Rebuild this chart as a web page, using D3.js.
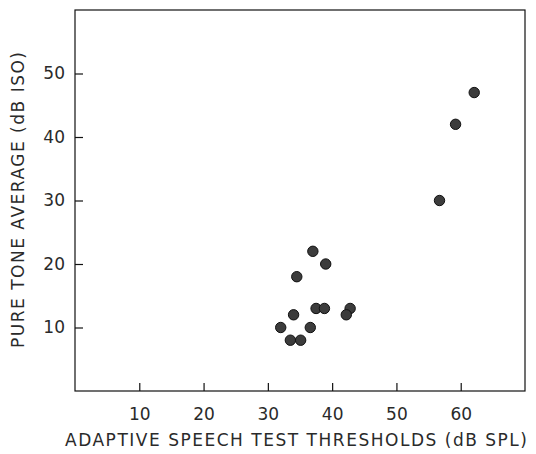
<!DOCTYPE html>
<html>
<head>
<meta charset="utf-8">
<script src="https://cdn.jsdelivr.net/npm/d3@7"></script>
<style>
  body { margin: 0; background: #fff; }
  text { font-family: "DejaVu Sans", sans-serif; fill: #2a2a2a; }
</style>
</head>
<body>
<div id="chart"></div>
<script>
// DATA
var speechThresholds = [37, 39, 34.5, 37.5, 38.8, 42.8, 42.2, 34, 32, 36.6, 33.5, 35.1, 56.7, 59.2, 62.1];
var pureToneAverages = [22, 20, 18, 13, 13, 13, 12, 12, 10, 10, 8, 8, 30, 42, 47];
var xTicks = [10, 20, 30, 40, 50, 60];
var yTicks = [10, 20, 30, 40, 50];

var width = 536;
var height = 454;
var margin = { top: 10, right: 11, bottom: 63, left: 75 };

var svg = d3
  .select("#chart")
  .append("svg")
  .attr("width", width)
  .attr("height", height);

var x = d3.scaleLinear().domain([0, 70]).range([margin.left, width - margin.right]);
var y = d3.scaleLinear().domain([0, 60]).range([height - margin.bottom, margin.top]);

// frame
svg
  .append("rect")
  .attr("x", x(0))
  .attr("y", y(60))
  .attr("width", x(70) - x(0))
  .attr("height", y(0) - y(60))
  .attr("fill", "none")
  .attr("stroke", "#111")
  .attr("stroke-width", 1.2);

// x axis (ticks pointing inward)
var xAxis = svg
  .append("g")
  .attr("transform", "translate(0," + y(0) + ")")
  .call(d3.axisBottom(x).tickValues(xTicks).tickSizeInner(-8).tickSizeOuter(0).tickPadding(17));
xAxis.select(".domain").remove();
xAxis.selectAll("line").attr("stroke", "#111").attr("stroke-width", 1.2);
xAxis.selectAll("text").style("font-size", "17px").attr("fill", "#2a2a2a");

// y axis
var yAxis = svg
  .append("g")
  .attr("transform", "translate(" + x(0) + ",0)")
  .call(d3.axisLeft(y).tickValues(yTicks).tickSizeInner(-8).tickSizeOuter(0).tickPadding(10));
yAxis.select(".domain").remove();
yAxis.selectAll("line").attr("stroke", "#111").attr("stroke-width", 1.2);
yAxis.selectAll("text").style("font-size", "17px").attr("fill", "#2a2a2a");

// axis titles
svg
  .append("text")
  .attr("x", 296)
  .attr("y", 446)
  .attr("text-anchor", "middle")
  .attr("textLength", 462)
  .attr("lengthAdjust", "spacing")
  .style("font-size", "17px")
  .text("ADAPTIVE SPEECH TEST THRESHOLDS (dB SPL)");

svg
  .append("text")
  .attr("transform", "translate(24,200) rotate(-90)")
  .attr("text-anchor", "middle")
  .attr("textLength", 296)
  .attr("lengthAdjust", "spacing")
  .style("font-size", "17px")
  .text("PURE TONE AVERAGE (dB ISO)");

// points
var points = speechThresholds.map(function (d, i) {
  return { sx: d, py: pureToneAverages[i] };
});

svg
  .selectAll("circle.pt")
  .data(points)
  .enter()
  .append("circle")
  .attr("class", "pt")
  .attr("cx", function (d) { return x(d.sx); })
  .attr("cy", function (d) { return y(d.py); })
  .attr("r", 5.2)
  .attr("fill", "#3c3c3c")
  .attr("stroke", "#111")
  .attr("stroke-width", 1);
</script>
</body>
</html>
